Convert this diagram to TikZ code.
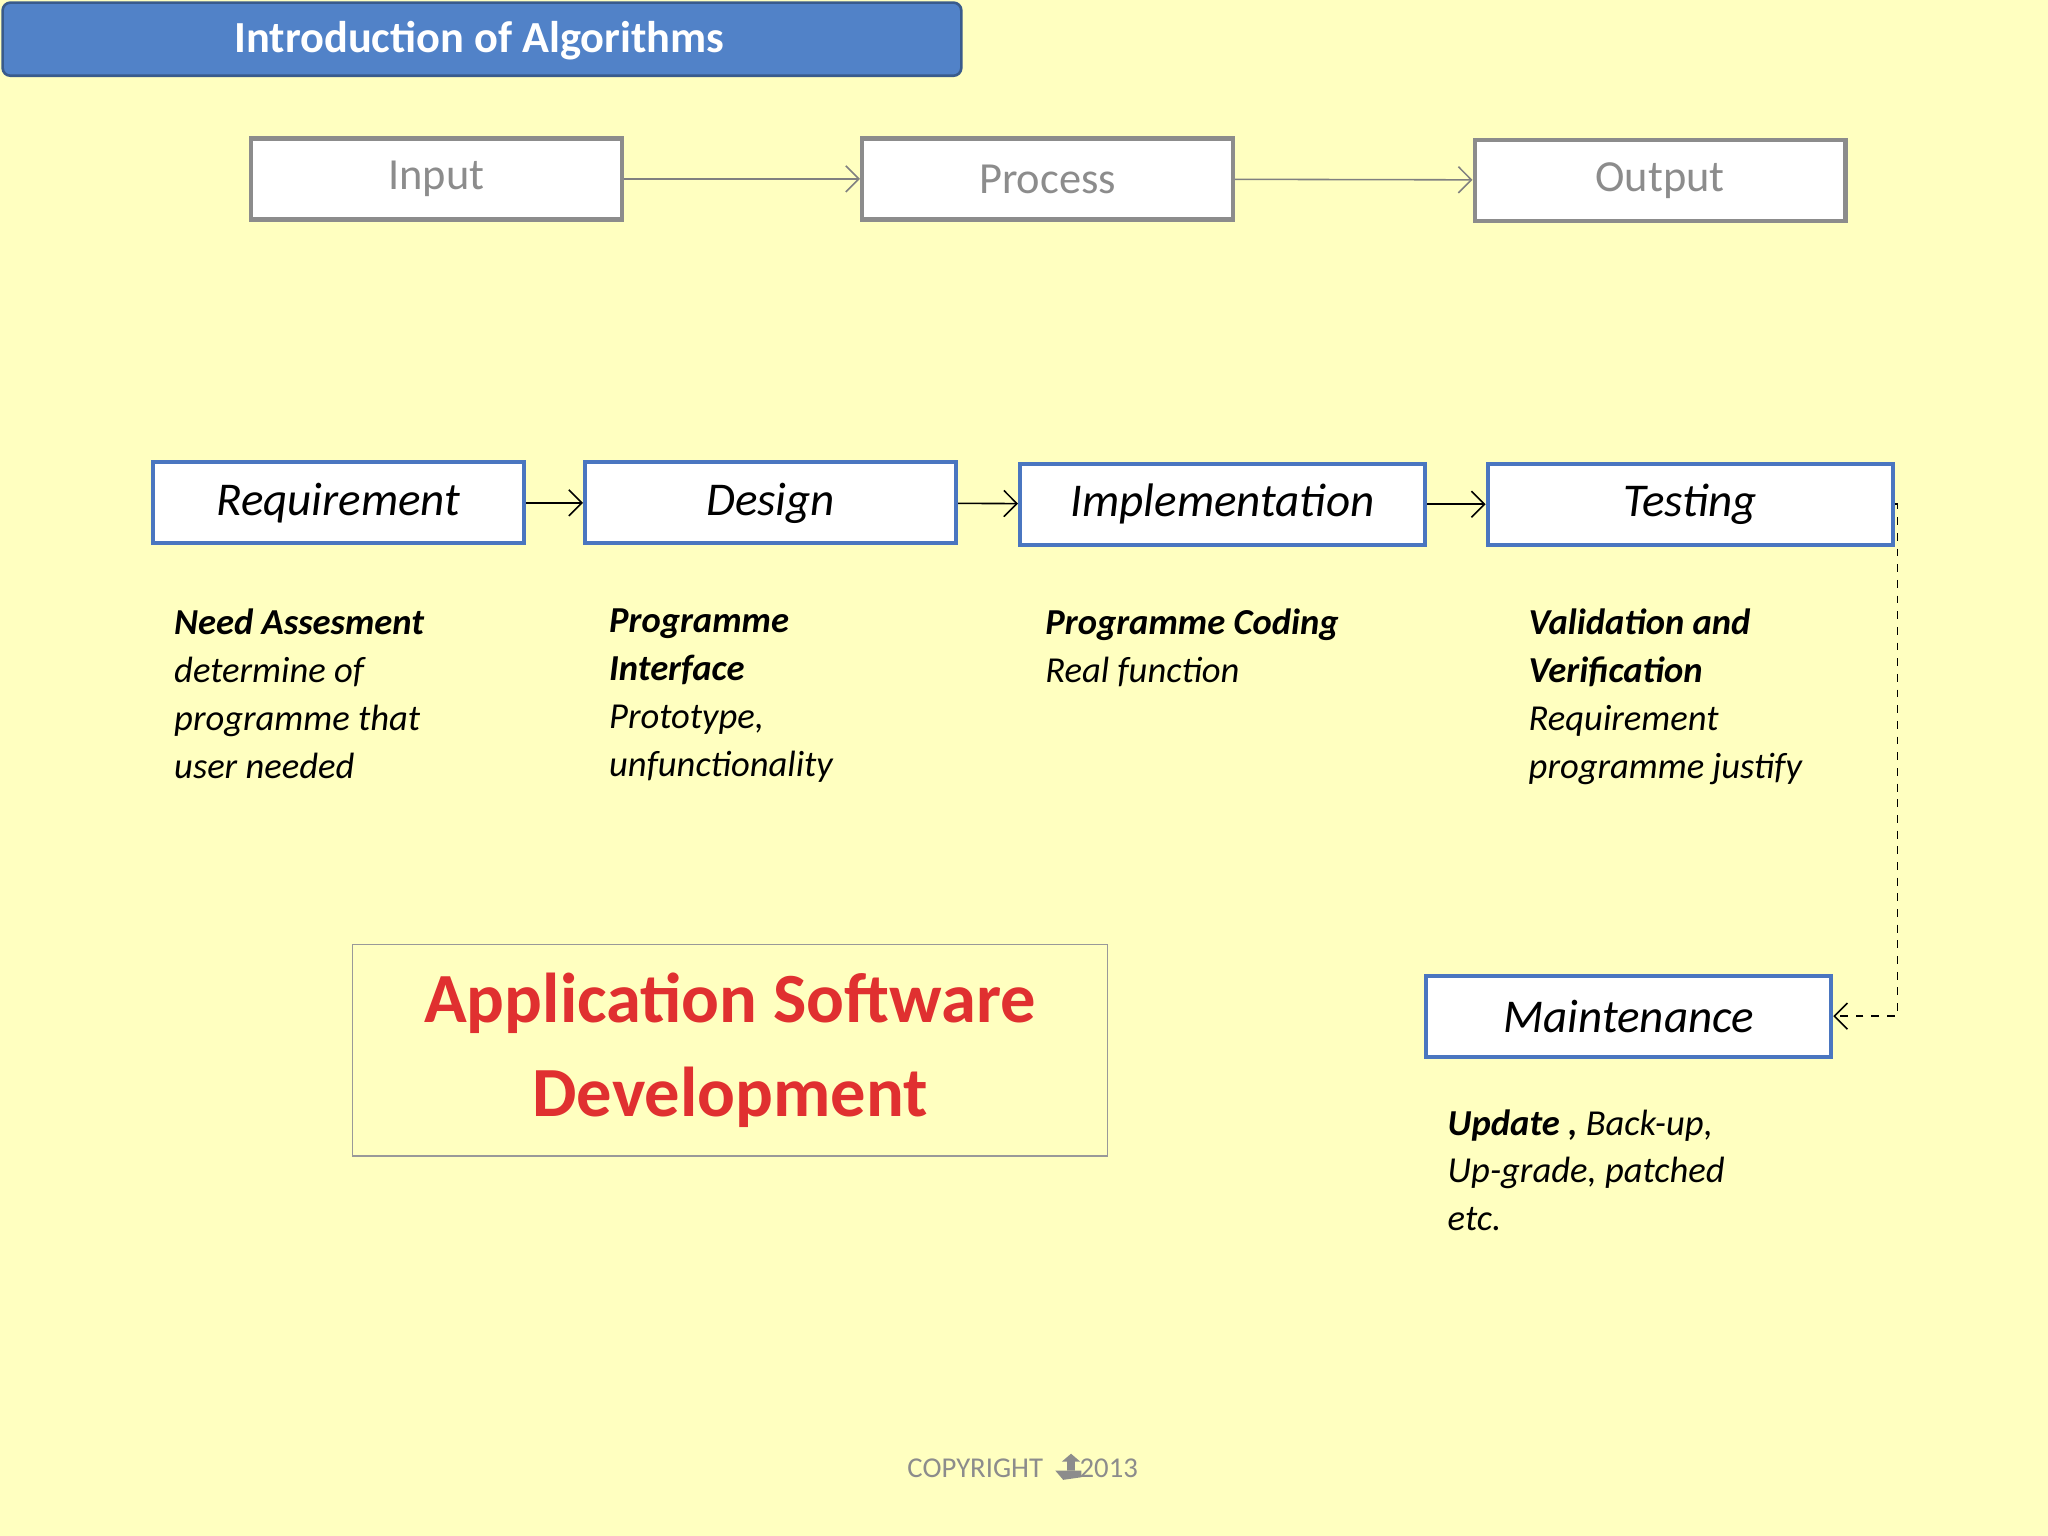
\documentclass[tikz,border=0pt]{standalone}
\usepackage{fontspec}
\setmainfont{Carlito}
\usetikzlibrary{arrows.meta}
\definecolor{bg}{HTML}{FFFFC0}
\definecolor{titleblue}{HTML}{5182C8}
\definecolor{boxblue}{HTML}{4A76C0}
\definecolor{gtext}{HTML}{8C8C8C}
\definecolor{redt}{HTML}{E03030}
\tikzset{
 x=0.5pt,y=-0.5pt,
 grey box/.style={draw=gray!90,line width=1.6pt,fill=white,minimum width=142pt,minimum height=31pt,text=gtext,font=\fontsize{17}{20}\selectfont,inner sep=0pt},
 stage/.style={draw=boxblue,line width=1.6pt,fill=white,minimum height=31pt,font=\itshape\fontsize{18}{21}\selectfont,inner sep=0pt},
 note/.style={anchor=north west,align=left,font=\itshape\fontsize{14}{18.3}\selectfont,inner sep=0pt},
 arr/.style={-{Straight Barb[length=5pt]},line width=0.6pt},
}
\begin{document}
\begin{tikzpicture}
\fill[bg] (0,0) rectangle (1568,1176);
\useasboundingbox (0,0) rectangle (1568,1176);
\node[draw=titleblue!70!black,line width=1pt,fill=titleblue,rounded corners=3pt,minimum width=367pt,minimum height=28pt,anchor=north west] (title) at (1,1) {};
\node[text=white,font=\bfseries\fontsize{17}{20}\selectfont] at (367,31) {Introduction of Algorithms};
\node[grey box] (in) at (334,137) {Input};
\node[grey box] (pr) at (802,137) {Process};
\node[grey box] (out) at (1271,138) {Output};
\draw[arr,gray] (in) -- (pr);
\draw[arr,gray] (pr) -- (out);
\node[stage,minimum width=142pt] (req) at (259,385) {Requirement};
\node[stage,minimum width=142pt] (des) at (590,385) {Design};
\node[stage,minimum width=155pt] (imp) at (936,386) {Implementation};
\node[stage,minimum width=155pt] (tes) at (1294,386) {Testing};
\node[stage,minimum width=155pt] (mai) at (1247,778) {Maintenance};
\draw[arr] (req) -- (des);
\draw[arr] (des) -- (imp);
\draw[arr] (imp) -- (tes);
\draw[arr,dashed] (tes.east) -- ++(2,0) |- (mai.east);
\node[note] (n1) at (133,466) {\textbf{Need Assesment}\\determine of\\programme that\\user needed};
\node[note] (n2) at (466,466) {\textbf{Programme}\\\textbf{Interface}\\Prototype,\\unfunctionality};
\node[note] (n3) at (800,466) {\textbf{Programme Coding}\\Real function};
\node[note] (n4) at (1170,466) {\textbf{Validation and}\\\textbf{Verification}\\Requirement\\programme justify};
\node[note] (n5) at (1108,849) {\textbf{Update ,} Back-up,\\Up-grade, patched\\etc.};
\node[draw=gray!80,line width=0.5pt,minimum width=289pt,minimum height=81pt,align=center,text=redt,font=\bfseries\fontsize{27}{36}\selectfont] (app) at (559,804) {Application Software\\Development};
\node[text=gtext,font=\fontsize{11}{13}\selectfont] (cp) at (783,1124) {COPYRIGHT\hspace{14pt}2013};
\fill[gtext] (808,1126) -- (828,1126) -- (828,1131) -- (814,1133) -- cycle;
\fill[gtext] (817,1126) -- (817,1119) -- (813,1119) -- (820,1113) -- (827,1119) -- (823,1119) -- (823,1126) -- cycle;
\end{tikzpicture}
\end{document}
